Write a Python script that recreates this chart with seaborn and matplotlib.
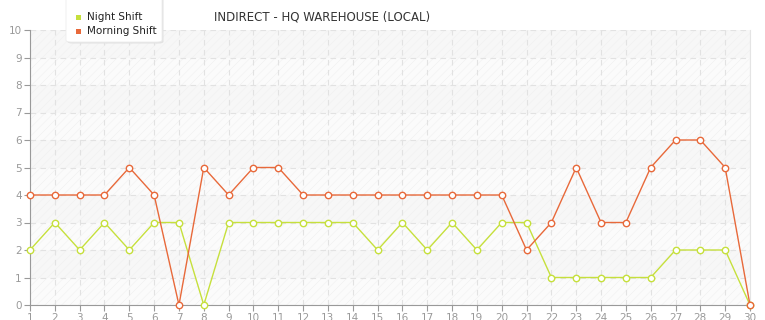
import matplotlib
matplotlib.use("Agg")
import matplotlib.pyplot as plt
import seaborn as sns
import pandas as pd
from matplotlib.patches import Rectangle, FancyBboxPatch

days = list(range(1, 31))
night_shift = [2, 3, 2, 3, 2, 3, 3, 0, 3, 3, 3, 3, 3, 3, 2, 3, 2, 3, 2, 3, 3, 1, 1, 1, 1, 1, 2, 2, 2, 0]
morning_shift = [4, 4, 4, 4, 5, 4, 0, 5, 4, 5, 5, 4, 4, 4, 4, 4, 4, 4, 4, 4, 2, 3, 5, 3, 3, 5, 6, 6, 5, 0]
y_ticks = list(range(0, 11))
title = "INDIRECT - HQ WAREHOUSE (LOCAL)"

night_color = "#c6e03c"
morning_color = "#e8693a"

sns.set_style("white")
plt.rcParams['font.family'] = ['DejaVu Sans']
plt.rcParams['hatch.linewidth'] = 0.4

df = pd.DataFrame({
    "day": days * 2,
    "value": night_shift + morning_shift,
    "series": ["Night Shift"] * 30 + ["Morning Shift"] * 30,
})

fig = plt.figure(figsize=(7.65, 3.2), dpi=100)
ax = fig.add_axes([30/765, 15/320, 720/765, 275/320])

# background bands
for i in range(10):
    shade = "#fbfbfb" if i % 2 == 0 else "#f7f7f7"
    ax.add_patch(Rectangle((1, i), 29, 1, facecolor=shade, edgecolor="#f0f0f0",
                           hatch="////", linewidth=0, zorder=0))

for name, col in [("Night Shift", night_color), ("Morning Shift", morning_color)]:
    sub = df[df.series == name]
    sns.lineplot(data=sub, x="day", y="value", ax=ax, color=col, linewidth=1.0,
                 marker="o", markersize=4.6, markerfacecolor="white",
                 markeredgecolor=col, markeredgewidth=1.0, legend=False, zorder=3,
                 clip_on=False)

ax.set_xlim(1, 30)
ax.set_ylim(0, 10)
ax.set_xticks(days)
ax.set_yticks(y_ticks)
ax.set_xlabel("")
ax.set_ylabel("")
ax.grid(True, color="#e2e2e2", linestyle=(0, (5, 4)), linewidth=0.8, zorder=1)
ax.set_axisbelow(True)
ax.spines["top"].set_visible(False)
ax.spines["right"].set_color("#e4e4e4")
ax.spines["left"].set_color("#999999")
ax.spines["bottom"].set_color("#999999")
ax.tick_params(axis="both", colors="#999999", labelcolor="#999999", labelsize=7.5,
               length=4, width=0.8, direction="out", left=True, bottom=True, pad=2)
ax.tick_params(axis="x", pad=1.5)

fig.text(322/765, 1 - 17/320, title, ha="center", va="center", fontsize=8.5, color="#333333")

# legend box (extends above the top edge, rounded corners)
lx0, ly0, lw, lh = 66/765, 1 - 42/320, 96/765, 50/320
shadow = FancyBboxPatch((lx0 + 1.5/765, ly0 - 1.5/320), lw, lh, transform=fig.transFigure,
                        boxstyle="round,pad=0,rounding_size=0.006",
                        facecolor="#e2e2e2", edgecolor="none", zorder=4)
box = FancyBboxPatch((lx0, ly0), lw, lh, transform=fig.transFigure,
                     boxstyle="round,pad=0,rounding_size=0.006",
                     facecolor="white", edgecolor="#ececec", linewidth=0.6, zorder=5)
fig.patches.extend([shadow, box])
for yy, lab, col in [(17, "Night Shift", night_color), (31, "Morning Shift", morning_color)]:
    fig.patches.append(Rectangle((76/765, 1 - (yy + 2.5)/320), 5/765, 5/320,
                                 transform=fig.transFigure, facecolor=col,
                                 edgecolor="none", zorder=6))
    fig.text(87/765, 1 - yy/320, lab, ha="left", va="center", fontsize=7.5,
             color="#222222", zorder=7)

fig.savefig("out.png", dpi=100)
